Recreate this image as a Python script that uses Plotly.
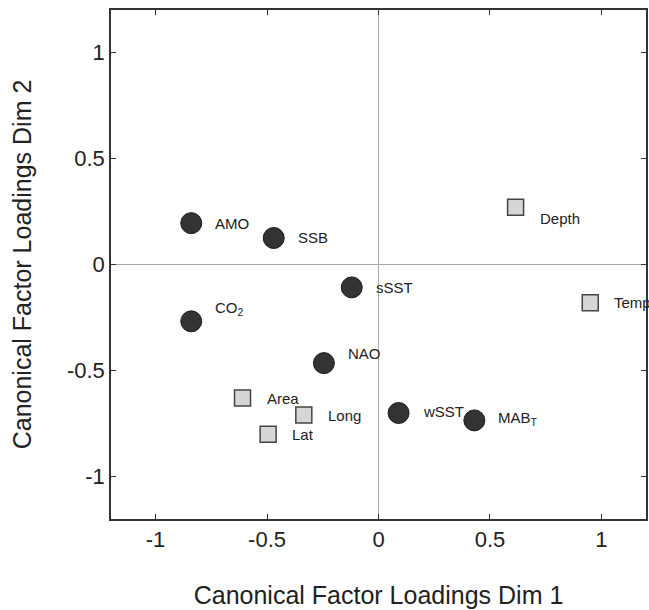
import plotly.graph_objects as go

# Environmental / response variables (circles)
circ_names = ["AMO", "SSB", "sSST", "CO<sub>2</sub>", "NAO", "wSST", "MAB<sub>T</sub>"]
circ_x = [-0.84, -0.47, -0.12, -0.84, -0.245, 0.09, 0.43]
circ_y = [0.195, 0.125, -0.108, -0.268, -0.465, -0.70, -0.735]

# Distribution variables (squares)
sq_names = ["Depth", "Temp", "Area", "Long", "Lat"]
sq_x = [0.615, 0.95, -0.61, -0.335, -0.495]
sq_y = [0.27, -0.18, -0.63, -0.71, -0.80]

# label vertical offsets (px) per point
circ_dy = [0, 0, 0, 13, 10, 1, 2]
sq_dy = [-11, 0, 0, 0, 0]

FONT = "Liberation Sans, Arial, Helvetica, sans-serif"

fig = go.Figure()
fig.add_trace(go.Scatter(
    x=circ_x, y=circ_y, mode="markers",
    marker=dict(symbol="circle", size=21, color="#333333",
                line=dict(color="#1a1a1a", width=1)),
    hoverinfo="skip", showlegend=False))
fig.add_trace(go.Scatter(
    x=sq_x, y=sq_y, mode="markers",
    marker=dict(symbol="square", size=16, color="#d6d6d6",
                line=dict(color="#444444", width=1.5)),
    hoverinfo="skip", showlegend=False))

for n, x, y, dy in list(zip(circ_names, circ_x, circ_y, circ_dy)) + list(zip(sq_names, sq_x, sq_y, sq_dy)):
    fig.add_annotation(x=x, y=y, text=n, showarrow=False, xanchor="left",
                       yanchor="middle", xshift=22, yshift=dy,
                       font=dict(family=FONT, size=15, color="#222222"))

axis_common = dict(
    range=[-1.2, 1.2], showgrid=False, zeroline=True, zerolinecolor="#aaaaaa",
    zerolinewidth=1, showline=True, linecolor="#333333", linewidth=1.5,
    mirror="ticks", ticks="inside", ticklen=5, tickcolor="#333333",
    tickvals=[-1, -0.5, 0, 0.5, 1], ticktext=["-1", "-0.5", "0", "0.5", "1"],
    tickfont=dict(family=FONT, size=22, color="#222222"),
)

fig.update_layout(
    width=649, height=610,
    margin=dict(l=111, r=1, t=10, b=91),
    paper_bgcolor="white", plot_bgcolor="white",
    xaxis=dict(**axis_common,
               title=dict(text="Canonical Factor Loadings Dim 1", standoff=35,
                          font=dict(family=FONT, size=25, color="#222222"))),
    yaxis=dict(**axis_common,
               title=dict(text="Canonical Factor Loadings Dim 2", standoff=28,
                          font=dict(family=FONT, size=25, color="#222222"))),
)

fig.write_html("out.html", config={"displayModeBar": False},
               post_script="document.body.style.margin='0';")
